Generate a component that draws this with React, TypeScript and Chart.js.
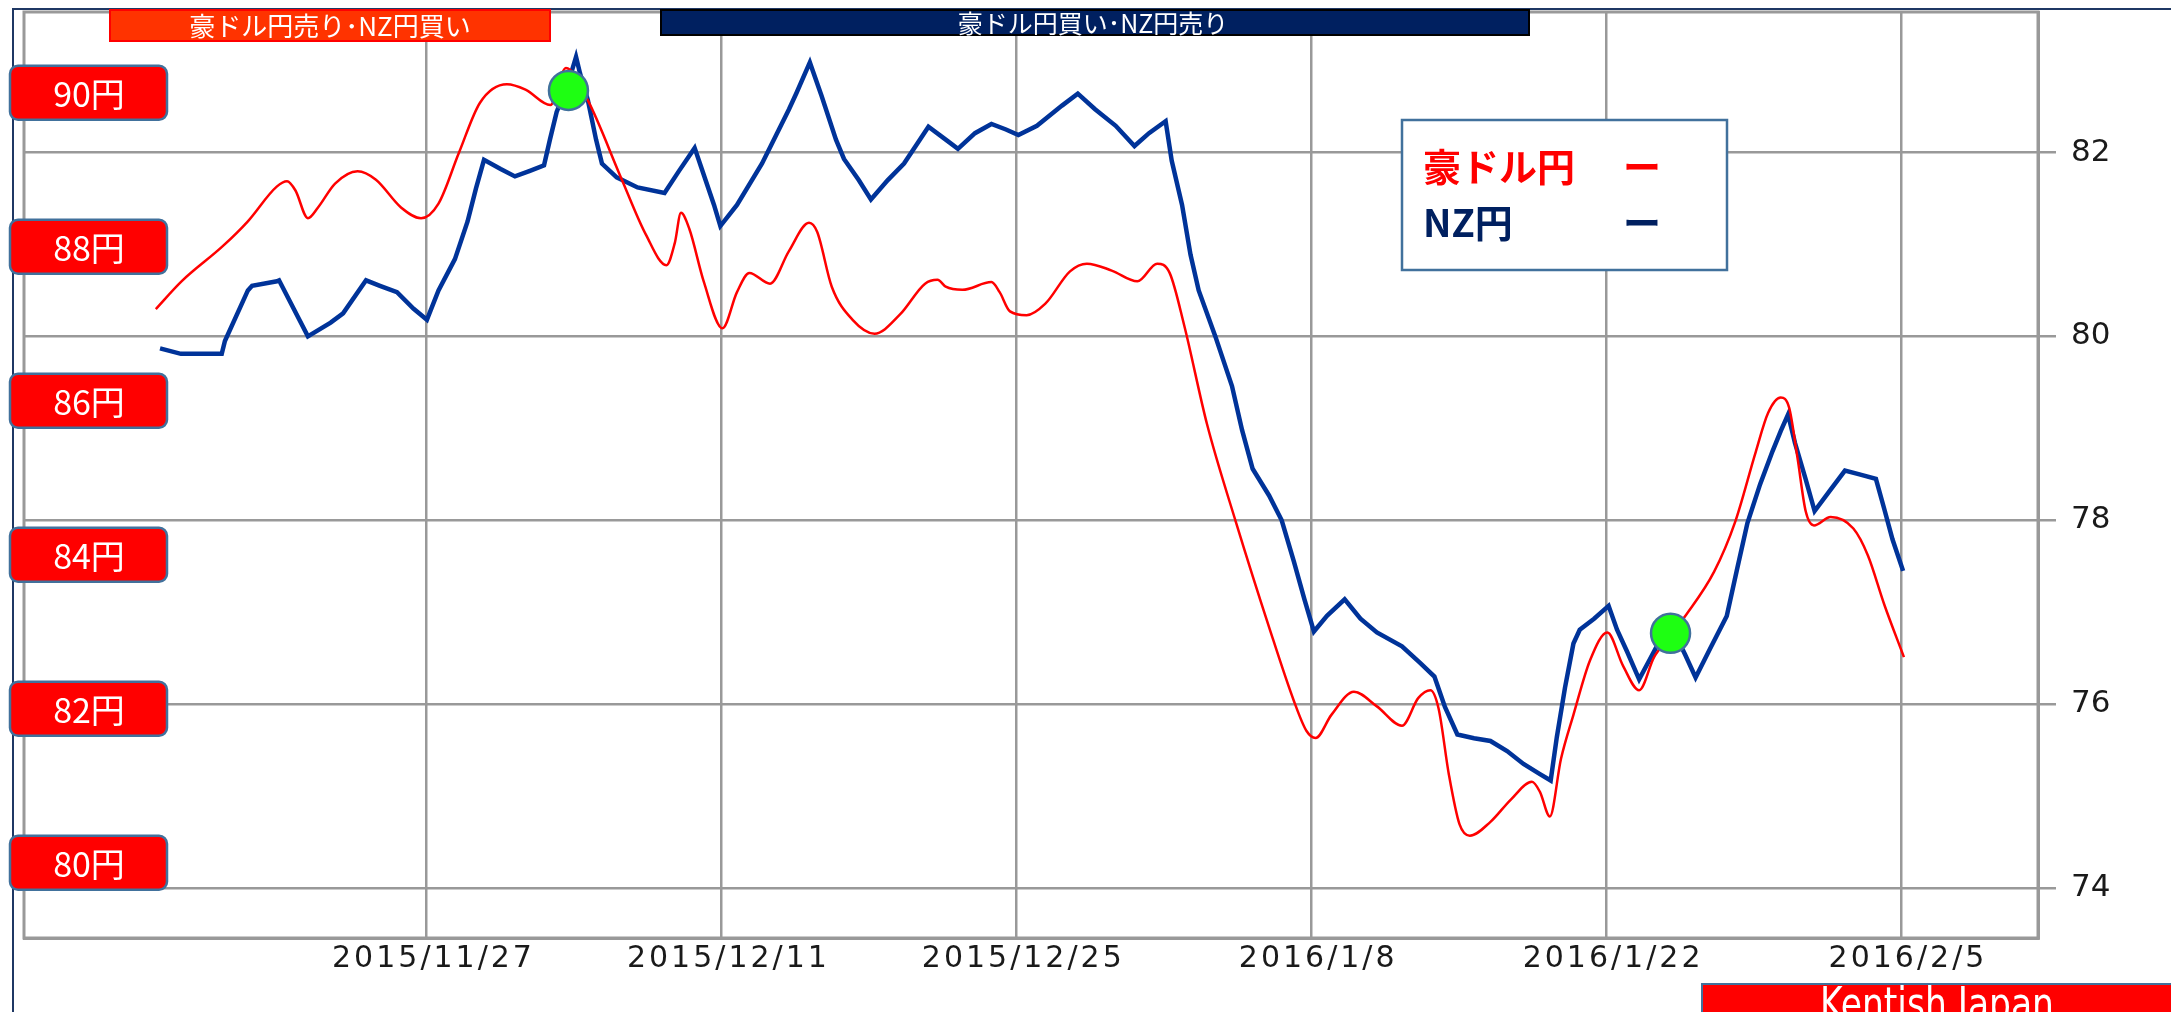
import React, { useEffect, useRef } from "react";
import { Chart, registerables } from "chart.js";

Chart.register(...registerables);

// x values are days counted from 2015/11/27
const dateTickDays = [0, 14, 28, 42, 56, 70];
const dateTickLabels = ["2015/11/27", "2015/12/11", "2015/12/25", "2016/1/8", "2016/1/22", "2016/2/5"];
const nzTickValues = [74, 76, 78, 80, 82];
const audLabelValues = [90, 88, 86, 84, 82, 80];
const audLabelTexts = ["90円", "88円", "86円", "84円", "82円", "80円"];
const seriesNames = ["豪ドル円", "NZ円"];
const legendDash = "ー";
const bannerSell = "豪ドル円売り･NZ円買い";
const bannerBuy = "豪ドル円買い･NZ円売り";
const creditText = "Kentish Japan";

// NZ円 (right axis)
const nzDays = [
  -12.65, -11.66, -9.72, -9.57, -8.48, -8.28, -7.1, -7.0, -5.63, -4.55, -3.96, -2.87, -2.21, -1.4, -0.61, 0.02,
  0.57, 1.35, 1.95, 2.35, 2.73, 3.52, 4.2, 4.91, 5.58, 5.86, 6.18, 6.72, 7.1, 7.29, 7.66, 8.05, 8.33, 9.03, 10.02,
  11.3, 11.99, 12.73, 13.07, 13.65, 13.95, 14.74, 15.93, 17.21, 17.57, 18.2, 18.75, 19.44, 19.82, 20.52, 21.1,
  21.9, 22.67, 23.28, 23.83, 24.65, 25.23, 26.04, 26.82, 27.51, 28.1, 28.98, 30.17, 30.92, 31.74, 32.72, 33.61,
  34.3, 35.09, 35.38, 35.87, 36.27, 36.66, 37.45, 38.24, 38.72, 39.22, 40.0, 40.6, 41.18, 41.68, 42.13, 42.75,
  43.59, 44.34, 45.12, 46.31, 47.17, 47.85, 48.35, 48.94, 49.73, 50.51, 51.3, 52.08, 52.86, 53.37, 53.66, 54.05,
  54.45, 54.75, 55.43, 56.12, 56.52, 57.0, 57.57, 57.99, 58.48, 59.37, 59.75, 60.25, 60.93, 61.73, 62.21, 62.71,
  63.31, 63.9, 64.29, 64.64, 64.97, 65.47, 65.9, 66.65, 67.34, 68.03, 68.81, 69.21, 69.6, 70.1,
];
const nzValues = [
  79.87, 79.81, 79.81, 79.95, 80.5, 80.55, 80.6, 80.61, 80.0, 80.15, 80.25, 80.61, 80.55, 80.48, 80.3, 80.18,
  80.5, 80.84, 81.25, 81.61, 81.92, 81.82, 81.74, 81.8, 81.86, 82.14, 82.44, 82.75, 83.04, 82.86, 82.57, 82.14,
  81.88, 81.73, 81.62, 81.56, 81.8, 82.05, 81.82, 81.43, 81.2, 81.43, 81.88, 82.47, 82.65, 82.98, 82.62, 82.14,
  81.93, 81.7, 81.49, 81.7, 81.88, 82.09, 82.28, 82.14, 82.04, 82.21, 82.31, 82.25, 82.19, 82.29, 82.51, 82.64,
  82.47, 82.29, 82.07, 82.21, 82.34, 81.91, 81.43, 80.89, 80.5, 80.0, 79.46, 78.98, 78.56, 78.27, 78.0, 77.55,
  77.14, 76.79, 76.96, 77.14, 76.93, 76.78, 76.63, 76.45, 76.3, 75.97, 75.67, 75.63, 75.6, 75.49, 75.35, 75.24,
  75.17, 75.64, 76.18, 76.66, 76.81, 76.93, 77.07, 76.81, 76.57, 76.27, 76.45, 76.66, 76.72, 76.54, 76.29, 76.6,
  76.96, 77.46, 77.97, 78.39, 78.75, 78.97, 79.15, 78.84, 78.45, 78.1, 78.33, 78.54, 78.5, 78.45, 78.12, 77.79,
  77.45,
];

// 豪ドル円 (left scale, shown by the red boxes)
const audDays = [
  -12.85, -11.63, -9.66, -8.48, -7.11, -6.62, -6.22, -5.63, -5.15, -4.34, -3.27, -2.4, -1.21, -0.26, 0.57, 1.54,
  2.54, 3.82, 4.7, 5.88, 6.62, 7.66, 9.23, 10.41, 11.39, 11.79, 12.08, 12.48, 13.16, 14.05, 14.74, 15.33, 16.31,
  17.2, 18.16, 18.55, 19.24, 20.23, 21.27, 22.48, 23.67, 24.26, 24.65, 25.44, 26.82, 27.21, 27.7, 28.49, 29.38,
  30.55, 31.35, 32.53, 33.75, 34.69, 35.28, 35.97, 37.05, 38.43, 40.0, 41.18, 41.78, 42.21, 42.96, 44.03, 45.12,
  46.31, 47.09, 47.66, 48.05, 48.54, 49.04, 49.53, 50.51, 51.48, 52.48, 52.86, 53.33, 53.86, 54.45, 55.24, 56.06,
  56.8, 57.57, 58.28, 59.04, 59.75, 61.13, 62.12, 63.11, 63.69, 64.29, 64.69, 65.08, 65.48, 65.87, 66.66, 67.74,
  68.43, 69.21, 70.14,
];
const audValues = [
  87.19, 87.55, 88.01, 88.33, 88.78, 88.85, 88.73, 88.37, 88.51, 88.82, 88.98, 88.87, 88.51, 88.37, 88.56, 89.22,
  89.87, 90.11, 90.04, 89.84, 90.32, 89.9, 88.9, 88.16, 87.76, 88.05, 88.44, 88.23, 87.55, 86.94, 87.41, 87.66,
  87.52, 87.94, 88.31, 88.19, 87.48, 87.05, 86.87, 87.12, 87.52, 87.57, 87.48, 87.44, 87.54, 87.41, 87.16, 87.11,
  87.26, 87.68, 87.78, 87.69, 87.55, 87.78, 87.66, 86.98, 85.7, 84.42, 83.06, 82.1, 81.71, 81.62, 81.92, 82.22,
  82.03, 81.78, 82.14, 82.24, 82.0, 81.14, 80.5, 80.35, 80.53, 80.82, 81.05, 80.92, 80.6, 81.35, 81.92, 82.63,
  82.99, 82.56, 82.24, 82.67, 82.94, 83.2, 83.78, 84.42, 85.34, 85.84, 86.04, 85.91, 85.27, 84.56, 84.38, 84.49,
  84.34, 83.99, 83.35, 82.67,
];

// signal markers (on the 豪ドル円 line)
const signalDays = [6.74, 59.06];
const signalValues = [90.03, 82.98];

const JP = '"Noto Sans CJK JP", "Noto Sans", sans-serif';
const TICKFONT = '"DejaVu Sans", "Liberation Sans", sans-serif';

export default function App() {
  const ref = useRef<HTMLCanvasElement>(null);

  useEffect(() => {
    const canvas = ref.current;
    if (!canvas) return;

    const overlay = {
      id: "overlay",
      beforeDatasetsDraw(chart: any) {
        const { ctx, chartArea } = chart;
        ctx.save();
        ctx.strokeStyle = "#999999";
        ctx.lineWidth = 3;
        ctx.strokeRect(chartArea.left, chartArea.top, chartArea.right - chartArea.left, chartArea.bottom - chartArea.top);
        ctx.restore();
      },
      afterDraw(chart: any) {
        const ctx = chart.ctx;
        ctx.save();
        ctx.letterSpacing = "0px";

        // outer frame
        ctx.strokeStyle = "#1f3864";
        ctx.lineWidth = 2;
        ctx.beginPath();
        ctx.moveTo(13, 1012);
        ctx.lineTo(13, 9);
        ctx.lineTo(2171, 9);
        ctx.stroke();

        // banners
        ctx.fillStyle = "#ff3300";
        ctx.fillRect(110, 10, 440, 31);
        ctx.strokeStyle = "#ff0000";
        ctx.lineWidth = 2;
        ctx.strokeRect(110, 10, 440, 31);
        ctx.fillStyle = "#ffffff";
        ctx.font = `26px ${JP}`;
        ctx.textAlign = "center";
        ctx.textBaseline = "middle";
        ctx.fillText(bannerSell, 330, 26);

        ctx.fillStyle = "#002060";
        ctx.fillRect(661, 10, 868, 25);
        ctx.strokeStyle = "#000000";
        ctx.strokeRect(661, 10, 868, 25);
        ctx.fillStyle = "#ffffff";
        ctx.font = `25px ${JP}`;
        ctx.fillText(bannerBuy, 1093, 23);

        // left price boxes (豪ドル円 scale)
        const yL = chart.scales.yL;
        audLabelValues.forEach((v, i) => {
          const y = yL.getPixelForValue(v);
          ctx.beginPath();
          ctx.roundRect(10, y - 27, 157, 54, 8);
          ctx.fillStyle = "#ff0000";
          ctx.fill();
          ctx.strokeStyle = "#41719c";
          ctx.lineWidth = 2.5;
          ctx.stroke();
          ctx.fillStyle = "#ffffff";
          ctx.font = `34px ${JP}`;
          ctx.textAlign = "center";
          ctx.textBaseline = "middle";
          ctx.fillText(audLabelTexts[i], 89, y + 1);
        });

        // legend
        ctx.fillStyle = "#ffffff";
        ctx.fillRect(1402, 120, 325, 150);
        ctx.strokeStyle = "#41719c";
        ctx.lineWidth = 2.5;
        ctx.strokeRect(1402, 120, 325, 150);
        ctx.font = `bold 38px ${JP}`;
        ctx.textAlign = "left";
        ctx.textBaseline = "middle";
        ctx.fillStyle = "#ff0000";
        ctx.fillText(seriesNames[0], 1423, 167);
        ctx.fillText(legendDash, 1623, 167);
        ctx.fillStyle = "#002060";
        ctx.fillText(seriesNames[1], 1423, 223);
        ctx.fillText(legendDash, 1623, 223);

        // credit
        ctx.fillStyle = "#ff0000";
        ctx.fillRect(1702, 984, 480, 40);
        ctx.strokeStyle = "#41719c";
        ctx.lineWidth = 2;
        ctx.strokeRect(1702, 984, 480, 40);
        ctx.fillStyle = "#ffffff";
        ctx.font = `44px "Liberation Sans Narrow", "DejaVu Sans Condensed", "Liberation Sans", sans-serif`;
        ctx.textAlign = "center";
        ctx.textBaseline = "alphabetic";
        ctx.fillText(creditText, 1937, 1019, 234);

        ctx.restore();
      },
    };

    const spacedLabels = (s: any) => {
      if (s.__spaced) return;
      s.__spaced = true;
      const orig = s.drawLabels.bind(s);
      s.drawLabels = (area: any) => {
        s.ctx.save();
        s.ctx.letterSpacing = "3px";
        orig(area);
        s.ctx.restore();
      };
    };

    const chart = new Chart(canvas, {
      type: "line",
      data: {
        datasets: [
          {
            type: "scatter",
            label: "signal",
            data: signalDays.map((x, i) => ({ x, y: signalValues[i] })),
            yAxisID: "yL",
            pointRadius: 19.5,
            pointBackgroundColor: "#1eff12",
            pointBorderColor: "#41719c",
            pointBorderWidth: 2.5,
            order: 0,
          },
          {
            label: seriesNames[0],
            data: audDays.map((x, i) => ({ x, y: audValues[i] })),
            yAxisID: "yL",
            borderColor: "#ff0000",
            borderWidth: 2.5,
            pointRadius: 0,
            cubicInterpolationMode: "monotone",
            fill: false,
            order: 1,
          },
          {
            label: seriesNames[1],
            data: nzDays.map((x, i) => ({ x, y: nzValues[i] })),
            yAxisID: "yR",
            borderColor: "#003399",
            borderWidth: 4.5,
            pointRadius: 0,
            tension: 0,
            fill: false,
            order: 2,
          },
        ],
      } as any,
      options: {
        responsive: false,
        animation: false,
        devicePixelRatio: 1,
        events: [],
        layout: { autoPadding: false, padding: { left: 24, top: 12, right: 0, bottom: 0 } },
        plugins: { legend: { display: false }, tooltip: { enabled: false } },
        scales: {
          x: {
            type: "linear",
            min: -19.108,
            max: 76.505,
            afterBuildTicks: (s: any) => {
              s.ticks = dateTickDays.map((v) => ({ value: v }));
              spacedLabels(s);
            },
            afterFit: (s: any) => {
              s.height = 74;
              s.paddingLeft = 0;
              s.paddingRight = 0;
            },
            ticks: {
              autoSkip: false,
              maxRotation: 0,
              padding: 3,
              labelOffset: 7,
              color: "#1a1a1a",
              font: { family: TICKFONT, size: 30 },
              callback: (v: any) => {
                const i = dateTickDays.indexOf(Number(v));
                return i >= 0 ? dateTickLabels[i] : "";
              },
            },
            grid: { color: "#999999", lineWidth: 2.5, drawTicks: false },
            border: { display: true, color: "#999999", width: 3 },
          },
          yR: {
            type: "linear",
            position: "right",
            min: 73.457,
            max: 83.528,
            afterBuildTicks: (s: any) => {
              s.ticks = nzTickValues.map((v) => ({ value: v }));
            },
            afterFit: (s: any) => {
              s.width = 133;
              s.paddingTop = 0;
              s.paddingBottom = 0;
            },
            ticks: {
              padding: 15,
              color: "#1a1a1a",
              font: { family: TICKFONT, size: 31 },
            },
            grid: { color: "#999999", lineWidth: 2.5, drawTicks: true, tickLength: 18 },
            border: { display: true, color: "#999999", width: 3 },
          },
          yL: {
            type: "linear",
            position: "left",
            display: false,
            min: 79.022,
            max: 91.048,
            afterFit: (s: any) => {
              s.paddingTop = 0;
              s.paddingBottom = 0;
            },
          },
        },
      } as any,
      plugins: [overlay],
    });

    return () => chart.destroy();
  }, []);

  return (
    <div style={{ position: "absolute", left: 0, top: 0, width: 2171, height: 1012, background: "#ffffff", overflow: "hidden" }}>
      <canvas ref={ref} width={2171} height={1012} style={{ display: "block", width: 2171, height: 1012 }} />
    </div>
  );
}
